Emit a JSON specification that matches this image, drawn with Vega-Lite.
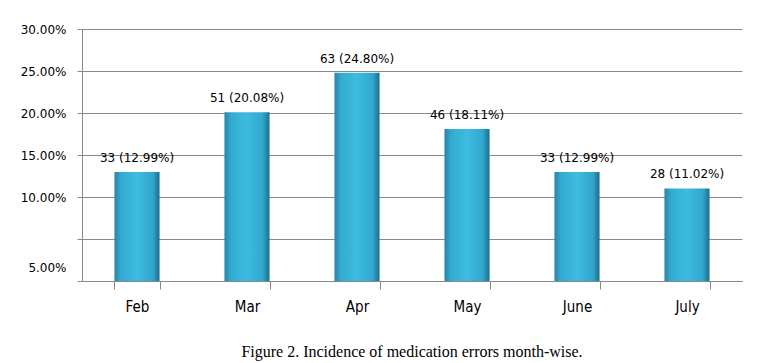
{
  "$schema": "https://vega.github.io/schema/vega-lite/v6.json",
  "width": 660,
  "height": 252,
  "autosize": {"type": "none"},
  "padding": {"left": 82, "top": 29, "right": 26, "bottom": 82},
  "background": "white",
  "title": {
    "text": "Figure 2. Incidence of medication errors month-wise.",
    "orient": "bottom",
    "anchor": "middle",
    "font": "Liberation Serif",
    "fontSize": 16,
    "fontWeight": "normal",
    "color": "black",
    "offset": 30
  },
  "data": {
    "values": [
      {"month": "Feb", "count": 33, "pct": 12.99},
      {"month": "Mar", "count": 51, "pct": 20.08},
      {"month": "Apr", "count": 63, "pct": 24.80},
      {"month": "May", "count": 46, "pct": 18.11},
      {"month": "June", "count": 33, "pct": 12.99},
      {"month": "July", "count": 28, "pct": 11.02}
    ]
  },
  "encoding": {
    "x": {
      "field": "month",
      "type": "nominal",
      "sort": null,
      "scale": {"paddingInner": 0.59, "paddingOuter": 0.295},
      "axis": {
        "title": null,
        "labelAngle": 0,
        "tickBand": "extent",
        "tickSize": 8,
        "tickColor": "#888888",
        "domainColor": "#888888",
        "labelFont": "DejaVu Sans Condensed, DejaVu Sans",
        "labelFontSize": 15,
        "labelColor": "black",
        "labelPadding": 10
      }
    },
    "y": {
      "field": "pct",
      "type": "quantitative",
      "scale": {"domain": [0, 30], "nice": false},
      "axis": {
        "title": null,
        "values": [0, 5, 10, 15, 20, 25, 30],
        "labelExpr": "datum.value == 5 ? '' : datum.value == 0 ? '5.00%' : format(datum.value, '.2f') + '%'",
        "labelOffset": {"condition": {"test": "datum.value == 0", "value": -14}, "value": 0},
        "grid": true,
        "gridColor": "#888888",
        "tickColor": "#888888",
        "tickSize": 5,
        "domainColor": "#888888",
        "labelFont": "DejaVu Sans",
        "labelFontSize": 12,
        "labelColor": "black",
        "labelPadding": 11
      }
    }
  },
  "layer": [
    {
      "mark": {
        "type": "bar",
        "color": {
          "gradient": "linear",
          "x1": 0, "y1": 0, "x2": 1, "y2": 0,
          "stops": [
            {"offset": 0, "color": "#2585a8"},
            {"offset": 0.15, "color": "#34acd2"},
            {"offset": 0.5, "color": "#3dbce0"},
            {"offset": 0.85, "color": "#31a6cc"},
            {"offset": 1, "color": "#1c6e8c"}
          ]
        }
      }
    },
    {
      "mark": {
        "type": "text",
        "baseline": "bottom",
        "dy": -7,
        "font": "DejaVu Sans",
        "fontSize": 12,
        "color": "black"
      },
      "encoding": {
        "text": {"field": "label", "type": "nominal"}
      },
      "transform": [
        {"calculate": "datum.count + ' (' + format(datum.pct, '.2f') + '%)'", "as": "label"}
      ]
    }
  ],
  "config": {
    "view": {"stroke": null}
  }
}
